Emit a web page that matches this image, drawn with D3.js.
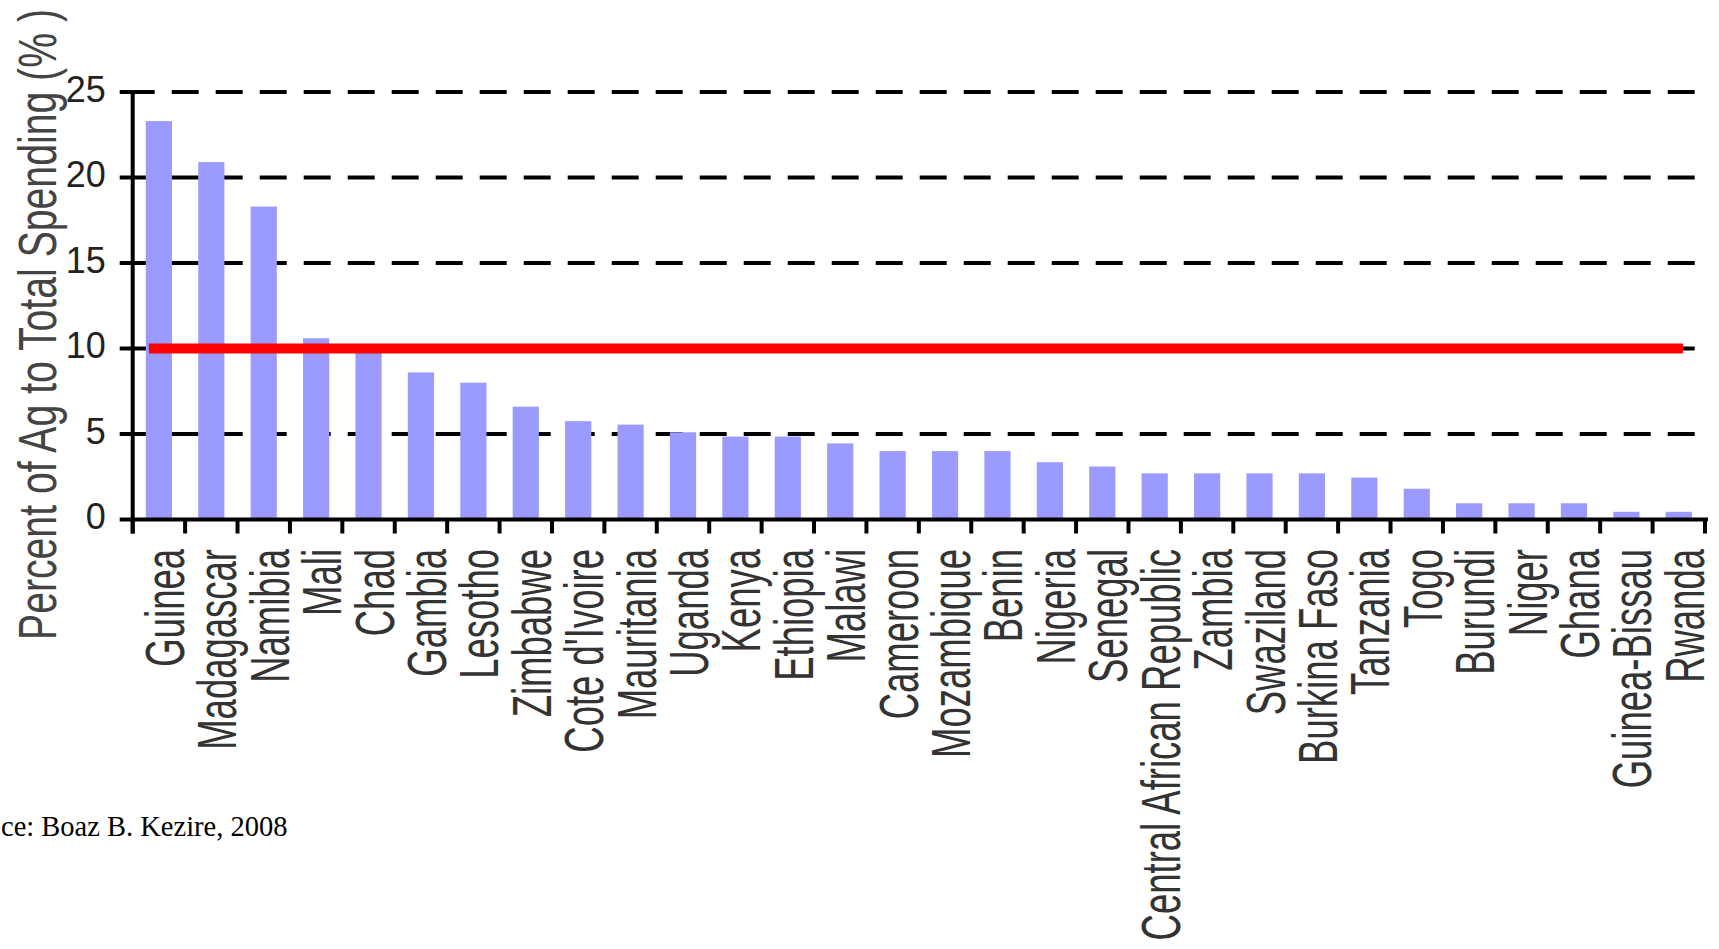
<!DOCTYPE html>
<html>
<head>
<meta charset="utf-8">
<script src="https://cdn.jsdelivr.net/npm/d3@7"></script>
<style>
  html, body { margin: 0; padding: 0; background: #ffffff; overflow: hidden; }
  svg { display: block; }
</style>
</head>
<body>
<svg id="chart" width="1719" height="949"></svg>
<script>
const categories = ["Guinea","Madagascar","Namibia","Mali","Chad","Gambia","Lesotho","Zimbabwe","Cote d'Ivoire","Mauritania","Uganda","Kenya","Ethiopia","Malawi","Cameroon","Mozambique","Benin","Nigeria","Senegal","Central African Republic","Zambia","Swaziland","Burkina Faso","Tanzania","Togo","Burundi","Niger","Ghana","Guinea-Bissau","Rwanda"];
const values = [23.3,20.9,18.3,10.6,9.8,8.6,8.0,6.6,5.75,5.55,5.1,4.85,4.85,4.45,4.0,4.0,4.0,3.35,3.1,2.7,2.7,2.7,2.7,2.45,1.8,0.95,0.95,0.95,0.45,0.45];
const yTicks = [0,5,10,15,20,25];
const targetValue = 10;
const yTitle = "Percent of Ag to Total Spending (% )";
const sourceText = "ce: Boaz B. Kezire, 2008";

const svg = d3.select("#chart");
const plotLeft = 132.7, plotRight = 1705, plotTop = 92, plotBottom = 519.5;

const x = d3.scaleBand().domain(categories).range([plotLeft, plotRight]).paddingInner(0.5).paddingOuter(0.25);
const y = d3.scaleLinear().domain([0, 25]).range([plotBottom, plotTop]);
const step = x.step();

// gridlines (dashed)
svg.append("g").selectAll("line").data(yTicks.filter(d => d > 0)).join("line")
  .attr("x1", plotLeft).attr("x2", plotRight + 3)
  .attr("y1", d => y(d)).attr("y2", d => y(d))
  .attr("stroke", "#000").attr("stroke-width", 4)
  .attr("stroke-dasharray", "27,17").attr("stroke-dashoffset", 5);

// bars
svg.append("g").selectAll("rect").data(categories).join("rect")
  .attr("x", d => x(d))
  .attr("width", x.bandwidth())
  .attr("y", (d, i) => y(values[i]))
  .attr("height", (d, i) => y(0) - y(values[i]))
  .attr("fill", "#9b9bff");

// target line
svg.append("line")
  .attr("x1", x(categories[0]) + 3)
  .attr("x2", x(categories[categories.length - 1]) + x.bandwidth() - 9)
  .attr("y1", y(targetValue)).attr("y2", y(targetValue))
  .attr("stroke", "#ff0000").attr("stroke-width", 10);

// y axis
svg.append("line").attr("x1", plotLeft).attr("x2", plotLeft).attr("y1", y(25) - 1).attr("y2", plotBottom + 14)
  .attr("stroke", "#000").attr("stroke-width", 4);
svg.append("g").selectAll("line").data(yTicks).join("line")
  .attr("x1", plotLeft - 13).attr("x2", plotLeft)
  .attr("y1", d => y(d)).attr("y2", d => y(d))
  .attr("stroke", "#000").attr("stroke-width", 4);
svg.append("g").selectAll("text").data(yTicks).join("text")
  .attr("x", plotLeft - 27).attr("y", d => y(d) - 3)
  .attr("dy", "0.35em")
  .attr("text-anchor", "end")
  .attr("font-family", "Liberation Sans, Arial, sans-serif")
  .attr("font-size", 36).attr("fill", "#222")
  .text(d => d);

// x axis
svg.append("line").attr("x1", plotLeft - 2).attr("x2", plotRight + 3).attr("y1", plotBottom).attr("y2", plotBottom)
  .attr("stroke", "#000").attr("stroke-width", 4);
svg.append("g").selectAll("line").data(d3.range(categories.length + 1)).join("line")
  .attr("x1", i => plotLeft + i * step).attr("x2", i => plotLeft + i * step)
  .attr("y1", plotBottom).attr("y2", plotBottom + 14)
  .attr("stroke", "#000").attr("stroke-width", 4);

// category labels (rotated)
const k = 1.52;
svg.append("g").selectAll("text").data(categories).join("text")
  .attr("transform", d => `translate(${x(d) + x.bandwidth() / 2 + 25},549) rotate(-90) scale(1,${k})`)
  .attr("text-anchor", "end")
  .attr("font-family", "Liberation Sans, Arial, sans-serif")
  .attr("font-size", 36.5).attr("fill", "#333")
  .text(d => d);

// y title
svg.append("text")
  .attr("transform", `translate(56,640) rotate(-90) scale(1,1.35)`)
  .attr("text-anchor", "start")
  .attr("font-family", "Liberation Sans, Arial, sans-serif")
  .attr("font-size", 39.2).attr("fill", "#444")
  .text(yTitle);

// source
svg.append("text")
  .attr("x", 1).attr("y", 836)
  .attr("text-anchor", "start")
  .attr("font-family", "Liberation Serif, Times New Roman, serif")
  .attr("font-size", 28.5).attr("fill", "#000")
  .text(sourceText);
</script>
</body>
</html>
